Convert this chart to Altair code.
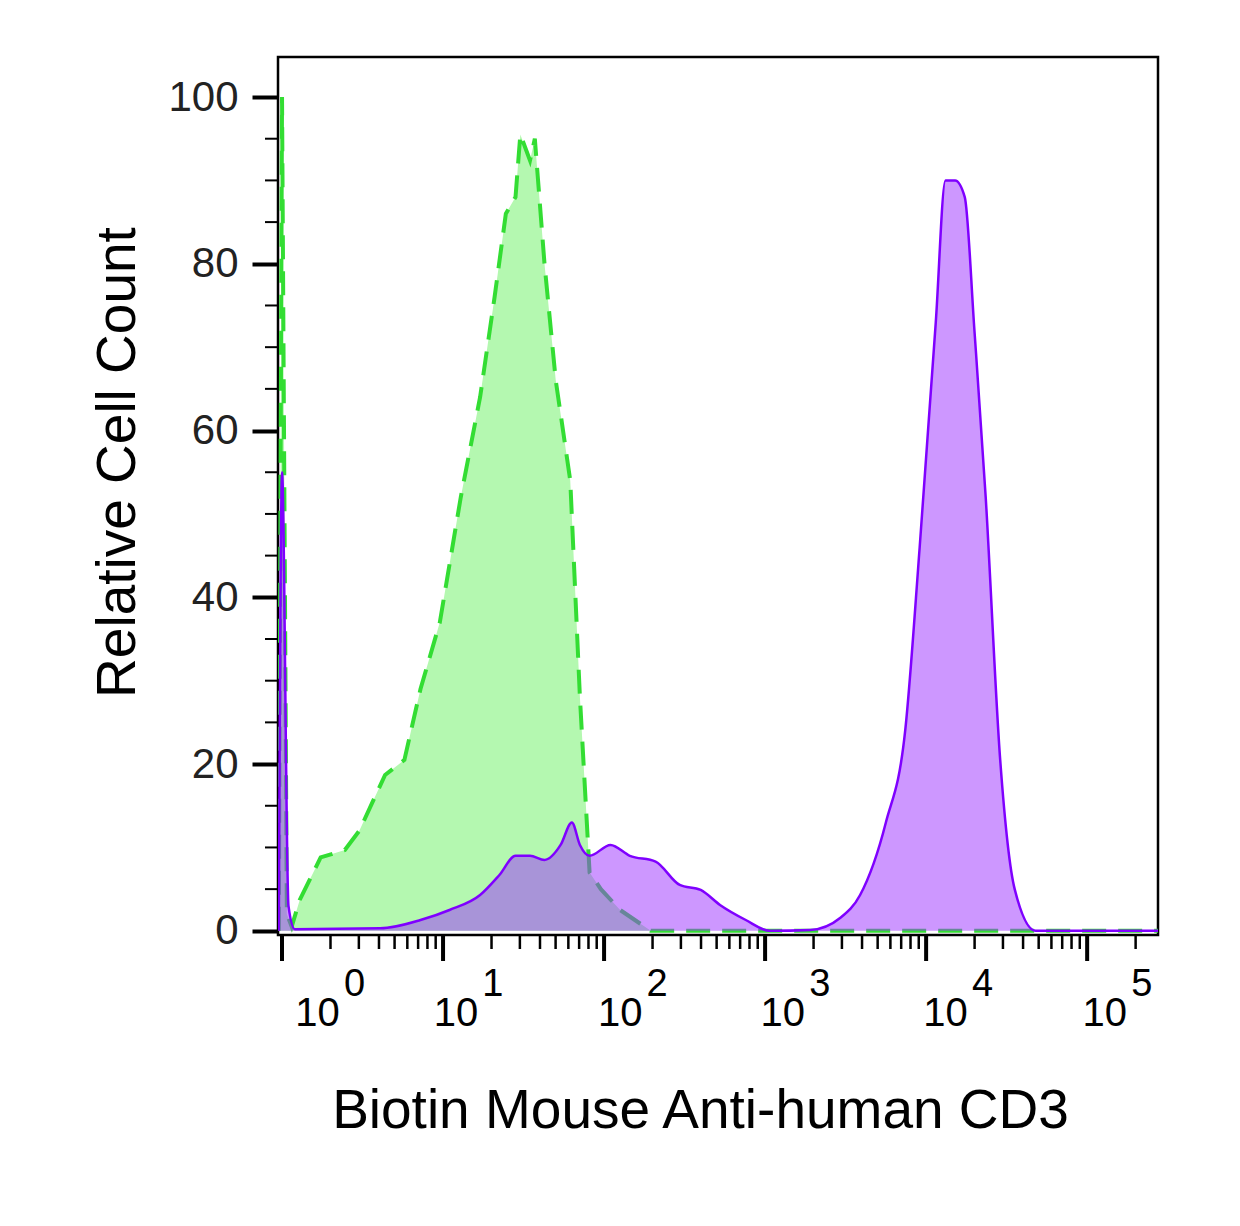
import altair as alt
import pandas as pd
import numpy as np

# x in decades of fluorescence (0 = 10^0), y = relative cell count
iso_x = [-0.02, 0.0, 0.03, 0.06, 0.11, 0.24, 0.39, 0.48, 0.64, 0.76, 0.86, 0.98, 1.11, 1.23,
         1.32, 1.39, 1.45, 1.48, 1.54, 1.57, 1.63, 1.70, 1.79, 1.85, 1.91, 1.98, 2.10, 2.29, 5.44]
iso_y = [0, 100, 2, 0.5, 3.7, 8.8, 9.7, 12, 18.7, 20.5, 29, 37, 52, 64,
         76, 86, 88, 95.5, 92.4, 95, 80, 66, 54, 28, 7, 5, 2.5, 0, 0]

cd3_x = [-0.02, 0.0, 0.04, 0.08, 0.61, 0.86, 1.04, 1.23, 1.35, 1.45, 1.54, 1.63, 1.73, 1.80, 1.85,
         1.91, 2.04, 2.16, 2.32, 2.47, 2.60, 2.72, 2.88, 3.03, 3.28, 3.47, 3.59, 3.75, 3.87,
         3.96, 4.06, 4.12, 4.18, 4.24, 4.30, 4.37, 4.46, 4.55, 4.68, 5.44]
cd3_y = [0, 55, 3, 0.2, 0.3, 1.3, 2.5, 4.3, 6.7, 9, 9, 8.5, 10.3, 13, 10.3,
         9, 10.3, 9, 8.3, 5.5, 4.9, 3.1, 1.3, 0, 0.1, 1.6, 4.3, 13, 24,
         46, 73, 90, 90, 88, 72, 52, 20.5, 5, 0, 0]

decades = [0, 1, 2, 3, 4, 5]
exp_labels = ["0", "1", "2", "3", "4", "5"]
label_pos = [0.22, 1.08, 2.10, 3.11, 4.12, 5.11]

minor_x = [d + np.log10(m) for d in range(0, 6) for m in range(2, 10) if d + np.log10(m) < 5.44]
minor_y = [v for v in range(5, 105, 5) if v % 20]

X0, X1 = -0.025, 5.44
Y0, Y1 = -0.5, 104.8
W, H = 880, 878
FONT = "Liberation Sans"

xs = alt.Scale(domain=[X0, X1], nice=False, zero=False)
ys = alt.Scale(domain=[Y0, Y1], nice=False, zero=False)

iso = pd.DataFrame({"x": iso_x, "y": iso_y})
cd3 = pd.DataFrame({"x": cd3_x, "y": cd3_y})

xenc = alt.X("x:Q", scale=xs, axis=alt.Axis(
    values=decades, labels=False, ticks=False, domain=False, grid=False,
    title="Biotin Mouse Anti-human CD3", titleFont=FONT, titleFontSize=55,
    titleFontWeight="normal", titleColor="black", titleX=422, titleY=175,
    titleBaseline="middle"))
yenc = alt.Y("y:Q", scale=ys, axis=alt.Axis(
    values=[0, 20, 40, 60, 80, 100], grid=False, domain=False,
    tickSize=26, tickWidth=4, tickColor="black",
    labelFont=FONT, labelFontSize=42, labelColor="#222", labelPadding=14,
    title="Relative Cell Count", titleFont=FONT, titleFontSize=55,
    titleFontWeight="normal", titleColor="black", titleAngle=-90,
    titleX=-161, titleY=405, titleBaseline="middle"))

iso_area = alt.Chart(iso).mark_area(color="#b4f8b0", opacity=1, clip=True).encode(x=xenc, y=yenc)
iso_line = alt.Chart(iso).mark_line(color="#33dd33", strokeWidth=4, strokeDash=[24, 12],
                                    clip=True).encode(x=alt.X("x:Q", scale=xs), y=alt.Y("y:Q", scale=ys))
cd3_area = alt.Chart(cd3).mark_area(color="#9b30ff", opacity=0.5, clip=True,
                                    interpolate="monotone").encode(
    x=alt.X("x:Q", scale=xs), y=alt.Y("y:Q", scale=ys))
cd3_line = alt.Chart(cd3).mark_line(color="#7f00ff", strokeWidth=2.5, clip=True,
                                    interpolate="monotone").encode(
    x=alt.X("x:Q", scale=xs), y=alt.Y("y:Q", scale=ys))

major = pd.DataFrame({"x": decades})
minor = pd.DataFrame({"x": minor_x})
ymin = pd.DataFrame({"y": minor_y})

major_ticks = alt.Chart(major).mark_rule(color="black", strokeWidth=4).encode(
    x=alt.X("x:Q", scale=xs), y=alt.value(H), y2=alt.value(H + 26))
minor_ticks = alt.Chart(minor).mark_rule(color="black", strokeWidth=2.5).encode(
    x=alt.X("x:Q", scale=xs), y=alt.value(H), y2=alt.value(H + 14))
y_minor = alt.Chart(ymin).mark_rule(color="black", strokeWidth=2).encode(
    y=alt.Y("y:Q", scale=ys), x=alt.value(-13), x2=alt.value(0))

labs = pd.DataFrame({"x": label_pos, "e": exp_labels, "t": ["10"] * 6})
base_lab = alt.Chart(labs).mark_text(font=FONT, fontSize=40, color="black",
                                     baseline="middle", align="center").encode(
    x=alt.X("x:Q", scale=xs), y=alt.value(957), text="t:N")
exp_lab = alt.Chart(labs).mark_text(font=FONT, fontSize=38, color="black",
                                    baseline="middle", align="center", dx=37).encode(
    x=alt.X("x:Q", scale=xs), y=alt.value(928), text="e:N")

chart = alt.layer(iso_area, iso_line, cd3_area, cd3_line, major_ticks, minor_ticks,
                  y_minor, base_lab, exp_lab).properties(
    width=W, height=H, autosize=alt.AutoSizeParams(type="none"),
    padding={"left": 270, "top": 49, "right": 70, "bottom": 230},
    background="white",
).configure_view(stroke="black", strokeWidth=2.5)

chart.save("out.html", embed_options={"renderer": "svg", "actions": False})
